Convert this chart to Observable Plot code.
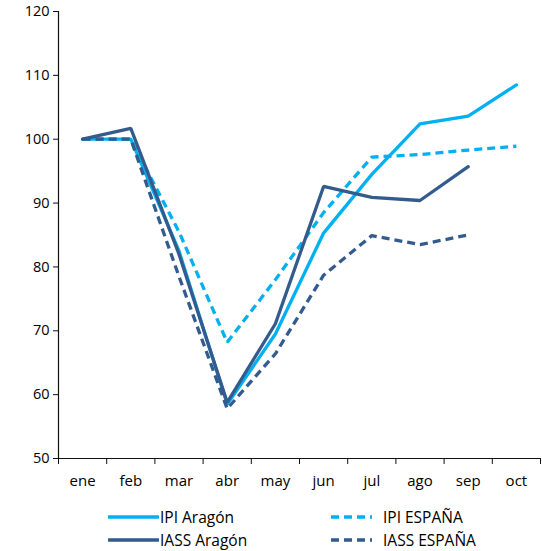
<!DOCTYPE html>
<html>
<head>
<meta charset="utf-8">
<script src="https://cdn.jsdelivr.net/npm/d3@7"></script>
<script src="https://cdn.jsdelivr.net/npm/@observablehq/plot@0.6"></script>
<style>
  html, body { margin: 0; padding: 0; background: #fff; }
  body { width: 542px; height: 551px; overflow: hidden; font-family: "Open Sans", Lato, sans-serif; }
  #legend { position: relative; height: 51px; font-size: 15.5px; color: #000; }
  .item { position: absolute; display: flex; align-items: center; height: 20px; }
  .item svg { margin-right: 1px; }
</style>
</head>
<body>
<div id="chart"></div>
<div id="legend"></div>
<script>
const months = ["ene", "feb", "mar", "abr", "may", "jun", "jul", "ago", "sep", "oct"];
const ipiAragon   = [100, 100, 82.5, 58.5, 69.5, 85.3, 94.5, 102.4, 103.6, 108.5];
const ipiEspana   = [100, 100, 85.5, 68.2, 78.0, 88.5, 97.2, 97.6, 98.3, 98.9];
const iassAragon  = [100, 101.7, 82.0, 58.8, 71.1, 92.6, 90.9, 90.4, 95.7];
const iassEspana  = [100, 100, 78.5, 57.8, 66.4, 78.7, 84.9, 83.5, 85.0];
const yTicks = [50, 60, 70, 80, 90, 100, 110, 120];

const LIGHT = "#00b0f0";
const DARK = "#335b8e";

const seriesDefs = [
  {name: "IPI Aragón", values: ipiAragon, color: LIGHT, dash: null},
  {name: "IPI ESPAÑA", values: ipiEspana, color: LIGHT, dash: "8,5"},
  {name: "IASS Aragón", values: iassAragon, color: DARK, dash: null},
  {name: "IASS ESPAÑA", values: iassEspana, color: DARK, dash: "8,5"}
];

const toRows = s => s.values.map((v, i) => ({i, v, name: s.name}));
const boundaries = d3.range(months.length + 1).map(i => i - 0.5);

const plot = Plot.plot({
  width: 542,
  height: 500,
  marginLeft: 58,
  marginRight: 2,
  marginTop: 11,
  marginBottom: 42,
  style: {fontFamily: "'Open Sans', Lato, sans-serif", fontSize: "14.5px", color: "#000", background: "#fff"},
  x: {type: "linear", domain: [-0.5, months.length - 0.5]},
  y: {domain: [50, 120]},
  marks: [
    Plot.ruleY([50], {stroke: "#111", strokeWidth: 1.2}),
    Plot.ruleX([-0.5], {y1: 50, y2: 120, stroke: "#111", strokeWidth: 1.2}),
    Plot.axisY({ticks: yTicks, tickSize: 5, tickPadding: 4, label: null, stroke: "#111", fontSize: 14.5}),
    Plot.axisX({ticks: boundaries, tickSize: 6, tickFormat: () => "", label: null, stroke: "#111"}),
    Plot.axisX({ticks: d3.range(months.length), tickSize: 0, tickPadding: 17, tickFormat: i => months[i], label: null, fontSize: 15}),
    ...seriesDefs.map(s => Plot.line(toRows(s), {
      x: "i", y: "v", stroke: s.color, strokeWidth: 3.3,
      strokeDasharray: s.dash, strokeLinejoin: "miter", strokeLinecap: s.dash ? "butt" : "round"
    }))
  ]
});
document.getElementById("chart").appendChild(plot);

// legend
const legend = document.getElementById("legend");
const positions = [
  {left: 108, top: 7, w: 50},
  {left: 330, top: 7, w: 42},
  {left: 108, top: 30, w: 50},
  {left: 330, top: 30, w: 42}
];
seriesDefs.forEach((s, k) => {
  const p = positions[k];
  const div = document.createElement("div");
  div.className = "item";
  div.style.left = p.left + "px";
  div.style.top = p.top + "px";
  const gap = s.dash ? 10 : 1;
  div.innerHTML = `<svg width="${p.w + gap}" height="8"><line x1="1" x2="${p.w}" y1="4" y2="4" stroke="${s.color}" stroke-width="3.5" ${s.dash ? `stroke-dasharray="8,5"` : ""} stroke-linecap="${s.dash ? "butt" : "round"}"/></svg><span>${s.name}</span>`;
  legend.appendChild(div);
});
</script>
</body>
</html>
